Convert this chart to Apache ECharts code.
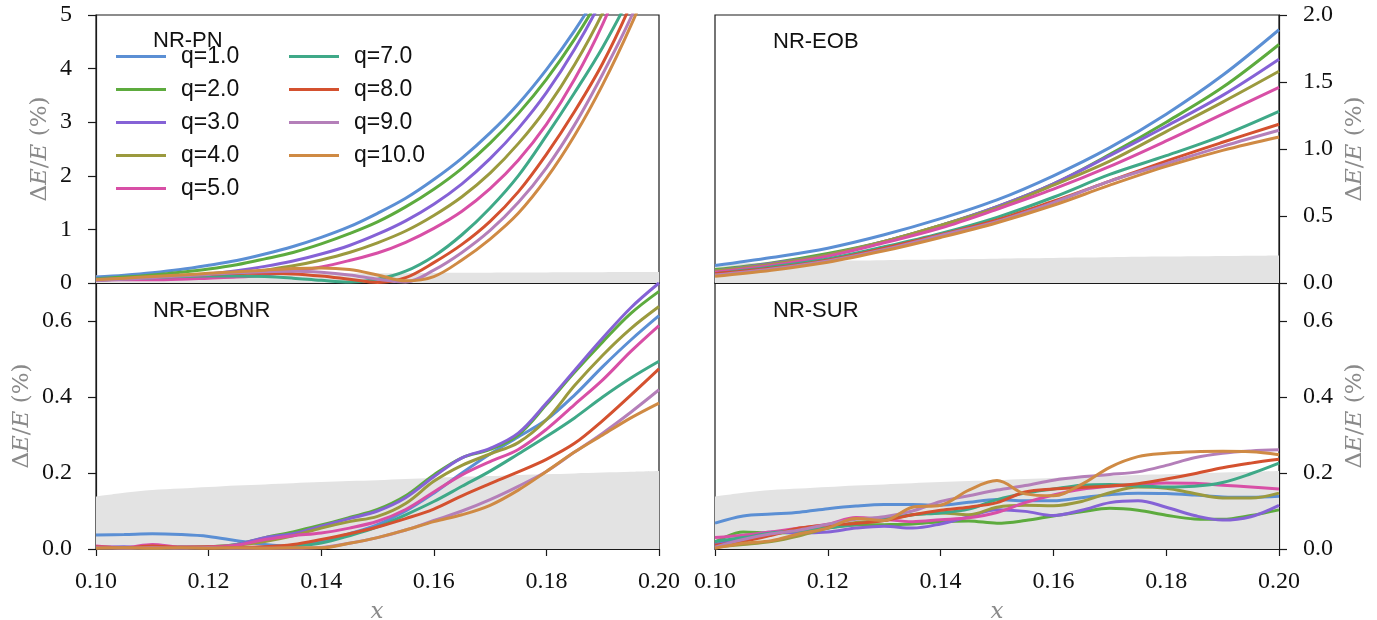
<!DOCTYPE html>
<html>
<head>
<meta charset="utf-8">
<script src="https://cdn.jsdelivr.net/npm/echarts@6/dist/echarts.min.js"></script>
<style>
  html, body { margin: 0; padding: 0; background: #ffffff; }
  #chart { width: 1377px; height: 620px; }
</style>
</head>
<body>
<div id="chart"></div>
<script>
// Sample positions along the x axis
const xFine = [0.100, 0.105, 0.110, 0.115, 0.120, 0.125, 0.130, 0.135, 0.140, 0.145, 0.150,
               0.155, 0.160, 0.165, 0.170, 0.175, 0.180, 0.185, 0.190, 0.195, 0.200];
const xCoarse = [0.10, 0.11, 0.12, 0.13, 0.14, 0.15, 0.16, 0.17, 0.18, 0.19, 0.20];

// Mass ratios and their colours
const massRatios = ['q=1.0', 'q=2.0', 'q=3.0', 'q=4.0', 'q=5.0', 'q=7.0', 'q=8.0', 'q=9.0', 'q=10.0'];
const lineColors = ['#5b8fd4', '#5dab3e', '#8562d6', '#9b9a3e', '#d84fa6',
                    '#3fa988', '#d4512f', '#b47fb9', '#cf8a44'];

// Numerical-relativity error floor (grey band), on xFine
const errorFloor = [0.138, 0.148, 0.155, 0.159, 0.163, 0.167, 0.170, 0.173, 0.176, 0.179, 0.181,
                    0.184, 0.187, 0.190, 0.192, 0.195, 0.197, 0.199, 0.201, 0.203, 0.205];

// NR-PN relative energy difference (%), on xFine
const nrPN = [
  [0.11, 0.145, 0.19, 0.25, 0.33, 0.42, 0.54, 0.68, 0.85, 1.05, 1.30, 1.58, 1.93, 2.33, 2.80, 3.34, 3.98, 4.71, 5.55, 6.51, 7.66],
  [0.08, 0.11, 0.15, 0.20, 0.26, 0.34, 0.45, 0.57, 0.73, 0.92, 1.14, 1.42, 1.75, 2.14, 2.61, 3.16, 3.80, 4.55, 5.42, 6.43, 7.59],
  [0.07, 0.08, 0.10, 0.13, 0.17, 0.23, 0.31, 0.41, 0.54, 0.70, 0.91, 1.16, 1.47, 1.85, 2.32, 2.88, 3.55, 4.36, 5.32, 6.47, 7.82],
  [0.06, 0.07, 0.08, 0.09, 0.12, 0.17, 0.24, 0.32, 0.43, 0.57, 0.75, 0.97, 1.26, 1.61, 2.05, 2.60, 3.26, 4.07, 5.04, 6.22, 7.64],
  [0.06, 0.06, 0.06, 0.07, 0.09, 0.11, 0.15, 0.22, 0.30, 0.42, 0.56, 0.76, 1.02, 1.34, 1.76, 2.29, 2.96, 3.80, 4.83, 6.12, 7.70],
  [0.05, 0.08, 0.10, 0.12, 0.13, 0.13, 0.12, 0.09, 0.05, 0.02, 0.07, 0.22, 0.50, 0.90, 1.40, 2.00, 2.75, 3.55, 4.40, 5.40, 6.70],
  [0.05, 0.08, 0.11, 0.14, 0.16, 0.18, 0.18, 0.17, 0.13, 0.07, 0.01, 0.10, 0.38, 0.72, 1.15, 1.70, 2.40, 3.20, 4.10, 5.20, 6.50],
  [0.04, 0.07, 0.10, 0.13, 0.16, 0.19, 0.21, 0.22, 0.20, 0.15, 0.07, 0.02, 0.24, 0.57, 0.98, 1.50, 2.15, 2.95, 3.90, 4.95, 6.20],
  [0.06, 0.09, 0.12, 0.15, 0.18, 0.21, 0.24, 0.27, 0.28, 0.25, 0.15, 0.04, 0.12, 0.43, 0.82, 1.30, 1.95, 2.75, 3.70, 4.80, 6.05]
];

// NR-EOB relative energy difference (%), on xCoarse
const nrEOB = [
  [0.13, 0.19, 0.26, 0.36, 0.48, 0.62, 0.80, 1.01, 1.26, 1.55, 1.89],
  [0.10, 0.15, 0.22, 0.31, 0.43, 0.57, 0.74, 0.96, 1.20, 1.46, 1.78],
  [0.09, 0.145, 0.21, 0.31, 0.43, 0.57, 0.74, 0.95, 1.17, 1.40, 1.67],
  [0.09, 0.14, 0.21, 0.31, 0.43, 0.56, 0.73, 0.91, 1.13, 1.35, 1.58],
  [0.08, 0.13, 0.20, 0.30, 0.41, 0.55, 0.70, 0.87, 1.06, 1.26, 1.46],
  [0.07, 0.12, 0.18, 0.27, 0.37, 0.49, 0.64, 0.81, 0.95, 1.10, 1.28],
  [0.07, 0.11, 0.17, 0.26, 0.36, 0.47, 0.61, 0.76, 0.91, 1.05, 1.185],
  [0.06, 0.105, 0.165, 0.25, 0.355, 0.46, 0.60, 0.76, 0.89, 1.02, 1.14],
  [0.05, 0.095, 0.155, 0.24, 0.34, 0.45, 0.58, 0.73, 0.87, 0.99, 1.09]
];

// NR-EOBNR relative energy difference (%), on xFine
const nrEOBNR = [
  [0.037, 0.038, 0.040, 0.038, 0.033, 0.022, 0.012, 0.008, 0.020, 0.040, 0.064, 0.100, 0.147, 0.200, 0.250, 0.295, 0.340, 0.405, 0.480, 0.550, 0.614],
  [0.006, 0.003, 0.005, 0.004, 0.006, 0.012, 0.030, 0.045, 0.063, 0.083, 0.104, 0.140, 0.195, 0.240, 0.262, 0.300, 0.380, 0.465, 0.545, 0.620, 0.678],
  [0.004, 0.006, 0.003, 0.005, 0.004, 0.012, 0.030, 0.040, 0.060, 0.080, 0.100, 0.135, 0.190, 0.240, 0.265, 0.305, 0.384, 0.470, 0.555, 0.635, 0.700],
  [0.005, 0.003, 0.004, 0.006, 0.005, 0.010, 0.020, 0.035, 0.055, 0.072, 0.086, 0.120, 0.178, 0.220, 0.250, 0.280, 0.340, 0.430, 0.510, 0.580, 0.638],
  [0.008, 0.004, 0.012, 0.005, 0.006, 0.010, 0.025, 0.035, 0.042, 0.055, 0.073, 0.104, 0.150, 0.195, 0.230, 0.262, 0.315, 0.380, 0.445, 0.520, 0.588],
  [0.003, 0.004, 0.002, 0.003, 0.004, 0.003, 0.004, 0.008, 0.016, 0.035, 0.058, 0.090, 0.125, 0.165, 0.205, 0.250, 0.296, 0.345, 0.400, 0.450, 0.494],
  [0.005, 0.003, 0.008, 0.004, 0.005, 0.004, 0.006, 0.012, 0.025, 0.040, 0.058, 0.080, 0.105, 0.140, 0.172, 0.203, 0.236, 0.278, 0.338, 0.405, 0.474],
  [0.003, 0.002, 0.003, 0.002, 0.003, 0.002, 0.002, 0.002, 0.004, 0.015, 0.030, 0.050, 0.075, 0.100, 0.130, 0.165, 0.204, 0.255, 0.305, 0.360, 0.419],
  [0.002, 0.003, 0.002, 0.003, 0.002, 0.003, 0.002, 0.003, 0.003, 0.015, 0.030, 0.050, 0.072, 0.090, 0.115, 0.155, 0.204, 0.255, 0.300, 0.345, 0.384]
];

// NR-SUR relative energy difference (%), on xFine
const nrSUR = [
  [0.068, 0.087, 0.092, 0.097, 0.106, 0.113, 0.117, 0.117, 0.115, 0.123, 0.130, 0.127, 0.127, 0.135, 0.143, 0.147, 0.146, 0.142, 0.137, 0.136, 0.139],
  [0.018, 0.045, 0.042, 0.045, 0.056, 0.063, 0.064, 0.066, 0.072, 0.074, 0.068, 0.075, 0.087, 0.098, 0.107, 0.102, 0.089, 0.079, 0.078, 0.088, 0.103],
  [0.012, 0.030, 0.045, 0.042, 0.045, 0.055, 0.060, 0.055, 0.066, 0.085, 0.103, 0.099, 0.088, 0.102, 0.122, 0.127, 0.110, 0.088, 0.076, 0.085, 0.115],
  [0.005, 0.012, 0.020, 0.035, 0.055, 0.070, 0.075, 0.090, 0.095, 0.090, 0.110, 0.115, 0.114, 0.125, 0.148, 0.163, 0.160, 0.146, 0.134, 0.134, 0.147],
  [0.030, 0.036, 0.045, 0.055, 0.065, 0.083, 0.078, 0.072, 0.077, 0.082, 0.096, 0.122, 0.142, 0.157, 0.165, 0.170, 0.174, 0.173, 0.168, 0.163, 0.158],
  [0.020, 0.030, 0.042, 0.048, 0.055, 0.065, 0.080, 0.090, 0.095, 0.105, 0.130, 0.147, 0.158, 0.168, 0.170, 0.166, 0.163, 0.165, 0.175, 0.198, 0.226],
  [0.010, 0.020, 0.036, 0.055, 0.063, 0.067, 0.075, 0.090, 0.102, 0.110, 0.122, 0.150, 0.158, 0.162, 0.166, 0.172, 0.184, 0.198, 0.214, 0.226, 0.236],
  [0.005, 0.025, 0.040, 0.050, 0.065, 0.078, 0.085, 0.100, 0.125, 0.140, 0.155, 0.167, 0.181, 0.190, 0.196, 0.203, 0.220, 0.240, 0.252, 0.258, 0.261],
  [0.002, 0.015, 0.022, 0.040, 0.055, 0.080, 0.075, 0.110, 0.115, 0.155, 0.180, 0.145, 0.140, 0.170, 0.215, 0.243, 0.252, 0.256, 0.257, 0.256, 0.248]
];

const panelNames = ['NR-PN', 'NR-EOB', 'NR-EOBNR', 'NR-SUR'];

// ---------------------------------------------------------------------------
const SERIF = '"Liberation Serif", "Times New Roman", serif';
const MATH = '"DejaVu Serif", serif';
const SANS = '"Liberation Sans", Arial, sans-serif';
const INK = '#111111';
const LABEL_GREY = '#8a8a8a';

const grids = [
  { left: 96,  top: 15,  width: 563, height: 268 },
  { left: 715, top: 15,  width: 564, height: 268 },
  { left: 96,  top: 283, width: 563, height: 266 },
  { left: 715, top: 283, width: 564, height: 266 }
];

const panels = [
  { rows: nrPN,    xs: xFine,   ymax: 5,   step: 1,   side: 'left',  digits: 0 },
  { rows: nrEOB,   xs: xCoarse, ymax: 2,   step: 0.5, side: 'right', digits: 1 },
  { rows: nrEOBNR, xs: xFine,   ymax: 0.7, step: 0.2, side: 'left',  digits: 1 },
  { rows: nrSUR,   xs: xFine,   ymax: 0.7, step: 0.2, side: 'right', digits: 1 }
];

const zip = (xs, ys) => xs.map((x, i) => [x, ys[i]]);

const gridOpts = grids.map(g => Object.assign({
  show: true, borderColor: '#1a1a1a', borderWidth: 1.2,
  backgroundColor: 'transparent', containLabel: false, outerBoundsMode: 'none'
}, g));

const xAxes = grids.map((g, i) => {
  const bottomRow = i >= 2;
  return {
    type: 'value', gridIndex: i, min: 0.1, max: 0.2, interval: 0.02,
    splitLine: { show: false },
    axisLine: { show: true, onZero: false, lineStyle: { color: '#1a1a1a', width: 1.2 } },
    axisTick: { show: bottomRow, inside: false, length: 7, lineStyle: { color: '#1a1a1a', width: 1.2 } },
    axisLabel: {
      show: bottomRow, margin: 21,
      fontFamily: SERIF, fontSize: 24, color: INK,
      formatter: v => v.toFixed(2)
    }
  };
});

const yAxes = panels.map((p, i) => ({
  type: 'value', gridIndex: i, position: p.side,
  min: 0, max: p.ymax, interval: p.step,
  splitLine: { show: false },
  axisLine: { show: true, onZero: false, lineStyle: { color: '#1a1a1a', width: 1.2 } },
  axisTick: { show: true, inside: false, length: 8, lineStyle: { color: '#1a1a1a', width: 1.2 } },
  axisLabel: {
    margin: 24, fontFamily: SERIF, fontSize: 24, color: INK,
    showMaxLabel: p.ymax !== 0.7,
    formatter: v => v.toFixed(p.digits)
  }
}));

const series = [];
panels.forEach((p, i) => {
  // grey error-floor band
  series.push({
    type: 'line', xAxisIndex: i, yAxisIndex: i,
    data: zip(xFine, errorFloor),
    symbol: 'none', smooth: 0.3, silent: true, z: 1,
    lineStyle: { width: 0, opacity: 0 },
    areaStyle: { color: '#e3e3e3', opacity: 1 }
  });
  p.rows.forEach((ys, k) => {
    series.push({
      name: massRatios[k], type: 'line', xAxisIndex: i, yAxisIndex: i,
      data: zip(p.xs, ys),
      symbol: 'none', smooth: 0.35, clip: true, z: 3,
      lineStyle: { width: 3, color: lineColors[k] },
      itemStyle: { color: lineColors[k] }
    });
  });
});

// legend swatches are plain 50x3 strokes, like line handles
const legendBase = {
  orient: 'vertical', top: 40, itemWidth: 50, itemHeight: 3, itemGap: 10,
  icon: 'rect',
  textStyle: { fontFamily: SANS, fontSize: 23, color: INK, lineHeight: 21, padding: [0, 0, 0, 10] },
  selectedMode: false
};

const panelLabelPos = [[153, 41], [773, 42], [153, 311], [773, 311]];
const yTitlePos = [[40, 149], [1355, 149], [22, 416], [1355, 416]];

const graphics = [];
panelNames.forEach((name, i) => {
  graphics.push({
    type: 'text', x: panelLabelPos[i][0], y: panelLabelPos[i][1], z: 10,
    style: { text: name, font: '22px ' + SANS, fill: INK, align: 'left', verticalAlign: 'middle' }
  });
  graphics.push({
    type: 'text', x: yTitlePos[i][0], y: yTitlePos[i][1], rotation: Math.PI / 2, z: 10,
    style: {
      text: '{n|Δ}{i|E}{n|/}{i|E}{n| (%)}',
      align: 'center', verticalAlign: 'middle',
      rich: {
        n: { fontFamily: MATH, fontSize: 23, fill: LABEL_GREY },
        i: { fontFamily: MATH, fontSize: 23, fontStyle: 'italic', fill: LABEL_GREY }
      }
    }
  });
});
[[377, 612], [997, 612]].forEach(pos => {
  graphics.push({
    type: 'text', x: pos[0], y: pos[1], z: 10,
    style: { text: 'x', font: 'italic 23px ' + MATH, fill: LABEL_GREY, align: 'center', verticalAlign: 'middle' }
  });
});

const chart = echarts.init(document.getElementById('chart'), null, { renderer: 'canvas' });
chart.setOption({
  animation: false,
  backgroundColor: '#ffffff',
  grid: gridOpts,
  xAxis: xAxes,
  yAxis: yAxes,
  legend: [
    Object.assign({}, legendBase, { left: 111, data: massRatios.slice(0, 5) }),
    Object.assign({}, legendBase, { left: 284, data: massRatios.slice(5) })
  ],
  series: series,
  graphic: graphics
});
</script>
</body>
</html>
